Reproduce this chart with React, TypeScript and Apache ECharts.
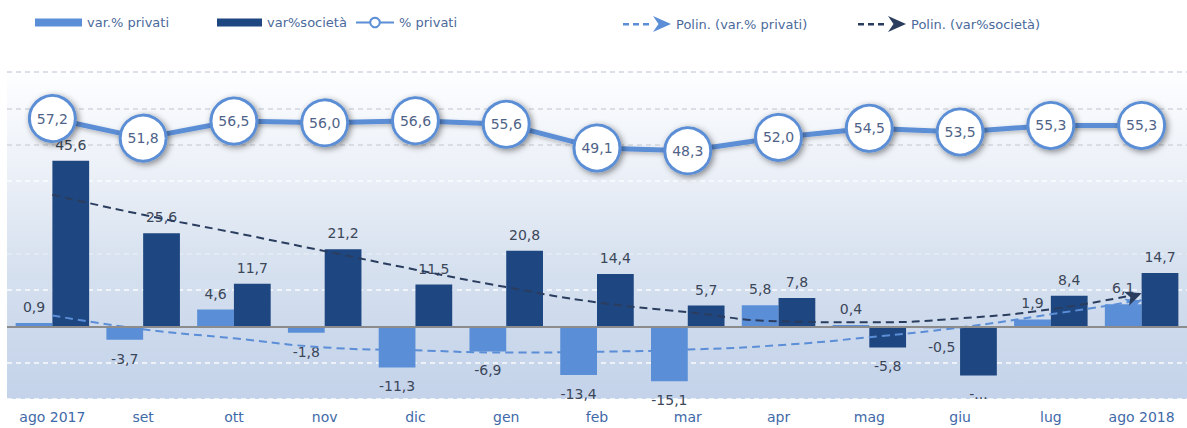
import React, { useEffect, useRef } from "react";
import * as echarts from "echarts";

const categories = ["ago 2017", "set", "ott", "nov", "dic", "gen", "feb", "mar", "apr", "mag", "giu", "lug", "ago 2018"];
const varPrivati = [0.9, -3.7, 4.6, -1.8, -11.3, -6.9, -13.4, -15.1, 5.8, 0.4, -0.5, 1.9, 6.1];
const varSocieta = [45.6, 25.6, 11.7, 21.2, 11.5, 20.8, 14.4, 5.7, 7.8, -5.8, -13.5, 8.4, 14.7];
const societaLabelOverride = [null, null, null, null, null, null, null, null, null, null, "-...", null, null];
const pctPrivati = [57.2, 51.8, 56.5, 56.0, 56.6, 55.6, 49.1, 48.3, 52.0, 54.5, 53.5, 55.3, 55.3];
const trendPrivati = [3.0, -0.8, -3.3, -5.8, -6.6, -7.2, -7.0, -6.4, -5.2, -3.0, -0.3, 3.3, 7.2];
const trendSocieta = [36.2, 30.7, 25.8, 20.7, 15.6, 10.8, 6.6, 3.9, 1.4, 1.1, 2.2, 4.7, 9.1];

const NAMES = ["var.% privati", "var%società", "% privati", "Polin. (var.% privati)", "Polin. (var%società)"];

const FONT = "DejaVu Sans";
const LIGHT = "#5a8fd8";
const DARK = "#1e4680";
const LINE = "#5b8ed6";
const TREND_DARK = "#2a3d5e";

const fmt = (v: number) => v.toFixed(1).replace(".", ",");

const ARROW_ICON =
  "path://M0,7h6v2.5h-6z M10,7h6v2.5h-6z M20,7h6v2.5h-6z M30,0L48,8L30,16L35.5,8z";

export default function App() {
  const ref = useRef<HTMLDivElement>(null);

  useEffect(() => {
    document.body.style.margin = "0";
    if (!ref.current) return;
    const chart = echarts.init(ref.current, undefined, { renderer: "svg" });
    const last = categories.length - 1;

    const legendText = { color: "#4a6a9b", fontSize: 13, fontFamily: FONT };
    const legendBase = { top: 16, padding: 0, selectedMode: false, textStyle: legendText };

    const barLabel = { show: true, fontSize: 14, fontFamily: FONT, color: "#3b4658" };

    const option: any = {
      animation: false,
      legend: [
        { ...legendBase, left: 35, itemWidth: 47, itemHeight: 8, icon: "rect", data: [NAMES[0]] },
        { ...legendBase, left: 217, itemWidth: 45, itemHeight: 8, icon: "rect", data: [NAMES[1]] },
        { ...legendBase, left: 355, itemWidth: 38, itemHeight: 12, data: [NAMES[2]], itemStyle: { borderWidth: 2 } },
        { ...legendBase, left: 623, itemWidth: 48, itemHeight: 16, icon: ARROW_ICON, data: [NAMES[3]] },
        { ...legendBase, left: 858, itemWidth: 48, itemHeight: 16, icon: ARROW_ICON, data: [NAMES[4]] },
      ],
      grid: {
        left: 7,
        right: -10,
        top: 72,
        bottom: 29,
        show: true,
        borderWidth: 0,
        backgroundColor: {
          type: "linear",
          x: 0,
          y: 0,
          x2: 0,
          y2: 1,
          colorStops: [
            { offset: 0, color: "#fdfeff" },
            { offset: 0.33, color: "#eaeff7" },
            { offset: 0.55, color: "#d9e3f0" },
            { offset: 0.8, color: "#ccd9ec" },
            { offset: 1, color: "#c4d3ea" },
          ],
        },
      },
      xAxis: {
        type: "category",
        data: categories,
        axisLine: { show: false },
        axisTick: { show: false },
        axisLabel: { color: "#3f6aa8", fontSize: 14, fontFamily: FONT, margin: 11, interval: 0 },
      },
      yAxis: {
        type: "value",
        min: -20,
        max: 70,
        interval: 10,
        axisLine: { show: false },
        axisTick: { show: false },
        axisLabel: { show: false },
        splitLine: {
          show: true,
          lineStyle: {
            type: [5, 4],
            width: 1.5,
            color: [
              "rgba(255,255,255,0.9)",
              "rgba(255,255,255,0.9)",
              "rgba(0,0,0,0)",
              "rgba(255,255,255,0.9)",
              "rgba(255,255,255,0.35)",
              "rgba(0,0,0,0)",
              "rgba(255,255,255,0.8)",
              "#cfd5df",
              "#cfd5df",
              "#cfd5df",
            ],
          },
        },
      },
      series: [
        {
          name: NAMES[0],
          type: "bar",
          barGap: "0%",
          barCategoryGap: "19%",
          itemStyle: { color: LIGHT },
          label: { ...barLabel, formatter: (p: any) => fmt(p.value) },
          data: varPrivati.map((v) => ({
            value: v,
            label: { position: v < 0 ? "bottom" : "top", distance: v < 0 ? 12 : 9 },
          })),
          markLine: {
            silent: true,
            symbol: ["none", "none"],
            label: { show: false },
            lineStyle: { color: "#8c8c8c", width: 2, type: "solid" },
            data: [{ yAxis: 0 }],
          },
          z: 2,
        },
        {
          name: NAMES[1],
          type: "bar",
          barGap: "0%",
          barCategoryGap: "19%",
          itemStyle: { color: DARK },
          label: {
            ...barLabel,
            formatter: (p: any) => societaLabelOverride[p.dataIndex] ?? fmt(p.value),
          },
          data: varSocieta.map((v) => ({
            value: v,
            label: { position: v < 0 ? "bottom" : "top", distance: v < 0 ? 12 : 9 },
          })),
          z: 2,
        },
        {
          name: NAMES[2],
          type: "line",
          data: pctPrivati,
          symbol: "circle",
          symbolSize: 46,
          lineStyle: {
            color: LINE,
            width: 5,
            shadowBlur: 4,
            shadowColor: "rgba(0,0,0,0.25)",
            shadowOffsetY: 2,
          },
          itemStyle: {
            color: "#ffffff",
            borderColor: LINE,
            borderWidth: 3,
            shadowBlur: 6,
            shadowColor: "rgba(0,0,0,0.45)",
            shadowOffsetX: 2,
            shadowOffsetY: 2,
          },
          label: {
            show: true,
            position: "inside",
            fontSize: 14,
            fontFamily: FONT,
            color: "#4f6388",
            formatter: (p: any) => fmt(p.value),
          },
          emphasis: { disabled: true },
          z: 5,
        },
        {
          name: NAMES[3],
          type: "line",
          smooth: true,
          showSymbol: true,
          symbol: "none",
          data: trendPrivati.map((v, i) =>
            i === last ? { value: v, symbol: "arrow", symbolSize: [11, 16], symbolRotate: -70 } : v
          ),
          lineStyle: { color: LINE, width: 2, type: [8, 5] },
          itemStyle: { color: LINE },
          emphasis: { disabled: true },
          z: 3,
        },
        {
          name: NAMES[4],
          type: "line",
          smooth: true,
          showSymbol: true,
          symbol: "none",
          data: trendSocieta.map((v, i) =>
            i === last ? { value: v, symbol: "arrow", symbolSize: [11, 16], symbolRotate: -70 } : v
          ),
          lineStyle: { color: TREND_DARK, width: 2, type: [8, 5] },
          itemStyle: { color: TREND_DARK },
          emphasis: { disabled: true },
          z: 3,
        },
      ],
    };

    chart.setOption(option);
    return () => chart.dispose();
  }, []);

  return <div ref={ref} style={{ width: 1187, height: 428 }} />;
}
